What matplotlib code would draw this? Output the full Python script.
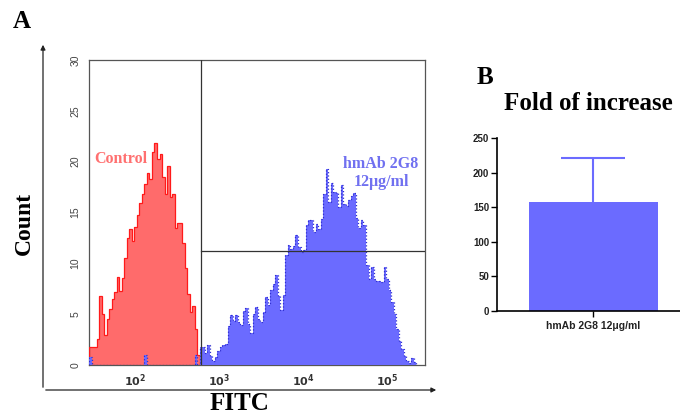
import numpy as np
import matplotlib
matplotlib.use("Agg")
import matplotlib.pyplot as plt
from matplotlib.ticker import NullLocator

# --- histogram data (counts per bin, log10 FITC bins of 0.03 decades) ---
log_start = 1.45
bin_width = 0.03

control_counts = [1.8, 1.8, 1.8, 2.6, 6.8, 5.0, 3.0, 4.5, 5.5, 6.5,
                  7.2, 8.7, 7.3, 8.6, 10.5, 12.5, 13.4, 12.2, 13.6, 14.8,
                  15.9, 16.8, 17.8, 18.9, 18.3, 21.0, 21.8, 20.3, 20.8, 18.5,
                  16.8, 19.6, 16.5, 16.8, 13.5, 14.0, 14.0, 12.0, 9.5, 7.0,
                  5.2, 5.8, 3.5, 1.0]

hmab_counts = [0.8, 0, 0, 0, 0, 0, 0, 0, 0, 0,
               0, 0, 0, 0, 0, 0, 0, 0, 0, 0,
               0, 0, 1.0, 0, 0, 0, 0, 0, 0, 0,
               0, 0, 0, 0, 0, 0, 0, 0, 0, 0,
               0, 0, 1.0, 0,
               1.8, 1.8, 1.2, 2.0, 0.9, 0.4, 0.8, 1.4, 1.8, 2.0,
               2.1, 3.8, 4.9, 4.3, 4.9, 4.2, 3.9, 5.3, 5.6, 4.0,
               3.1, 5.0, 5.7, 4.5, 4.2, 5.2, 6.7, 5.9, 7.4, 8.0,
               8.9, 6.8, 5.4, 6.9, 10.8, 11.8, 11.4, 11.7, 12.8, 11.6,
               11.1, 11.3, 13.8, 14.3, 14.3, 13.1, 13.9, 13.4, 14.4, 16.8,
               19.3, 16.0, 17.9, 17.0, 16.9, 15.5, 17.7, 15.8, 15.6, 16.2,
               16.6, 16.9, 14.5, 13.5, 14.3, 13.8, 9.8, 8.5, 9.6, 8.5,
               8.3, 8.3, 8.2, 9.6, 8.5, 7.4, 6.2, 5.0, 3.5, 2.4,
               1.6, 0.9, 0.4, 0.2, 0.7, 0.3]

gate_x = 10 ** 2.79
gate_y = 11.2
x_ticks = [1e2, 1e3, 1e4, 1e5]
x_tick_labels = [r'$\mathbf{10^{2}}$', r'$\mathbf{10^{3}}$',
                 r'$\mathbf{10^{4}}$', r'$\mathbf{10^{5}}$']
y_ticks = [0, 5, 10, 15, 20, 25, 30]

# --- bar panel data ---
bar_labels = ['hmAb 2G8 12μg/ml']
fold_mean = [157]
fold_err = [64]
bar_y_ticks = [0, 50, 100, 150, 200, 250]

serif = 'Liberation Serif'
sans = ['Liberation Sans', 'DejaVu Sans']

fig = plt.figure(figsize=(6.8, 4.17), dpi=100)

# ---------------- panel A: flow histogram ----------------
ax = fig.add_axes([0.1309, 0.1247, 0.494, 0.7314])
ctrl_edges = 10 ** (log_start + bin_width * np.arange(len(control_counts) + 1))
hmab_edges = 10 ** (log_start + bin_width * np.arange(len(hmab_counts) + 1))

ax.stairs(control_counts, ctrl_edges, fill=True, color='#ff6b6b', zorder=2)
ax.stairs(control_counts, ctrl_edges, color='#ff1a1a', lw=0.9, zorder=3)
ax.stairs(hmab_counts, hmab_edges, fill=True, color='#6b6bff', zorder=4)
ax.stairs(hmab_counts, hmab_edges, color='#3030d0', lw=0.9, ls=':', zorder=5)

ax.set_xscale('log')
ax.set_xlim(10 ** 1.45, 10 ** 5.452)
ax.set_ylim(0, 30)
ax.axvline(gate_x, color='#333333', lw=0.9, zorder=6)
ax.plot([gate_x, 10 ** 5.452], [gate_y, gate_y], color='#333333', lw=0.9, zorder=6)

ax.set_xticks(x_ticks)
ax.set_xticklabels(x_tick_labels, fontsize=8, color='#333333')
ax.xaxis.set_minor_locator(NullLocator())
ax.set_yticks(y_ticks)
ax.set_yticklabels([str(t) for t in y_ticks], rotation=90, va='center',
                   fontsize=7.5, color='#444444', family=sans)
ax.tick_params(length=0, pad=6)
ax.tick_params(axis='x', pad=5)
for sp in ax.spines.values():
    sp.set_color('#555555')
    sp.set_linewidth(0.9)

ax.text(121 / 680, 1 - 159 / 417, 'Control', transform=fig.transFigure,
        ha='center', va='center', fontsize=11.5, fontweight='bold',
        family=serif, color='#ff7070')
ax.text(381 / 680, 1 - 173 / 417, 'hmAb 2G8\n12μg/ml', transform=fig.transFigure,
        ha='center', va='center', fontsize=11.5, fontweight='bold',
        family=serif, color='#7070f0', linespacing=1.1)

# outer arrows
fig.add_artist(matplotlib.patches.FancyArrowPatch(
    (43 / 680, 1 - 390 / 417), (43 / 680, 1 - 42 / 417), transform=fig.transFigure,
    arrowstyle='-|>', mutation_scale=7, lw=0.9, color='#222222'))
fig.add_artist(matplotlib.patches.FancyArrowPatch(
    (43 / 680, 1 - 390 / 417), (439 / 680, 1 - 390 / 417), transform=fig.transFigure,
    arrowstyle='-|>', mutation_scale=7, lw=0.9, color='#222222'))

fig.text(22 / 680, 1 - 22 / 417, 'A', ha='center', va='center', fontsize=18,
         fontweight='bold', family=serif)
fig.text(24 / 680, 1 - 223 / 417, 'Count', ha='center', va='center', rotation=90,
         fontsize=17, fontweight='bold', family=serif)
fig.text(239 / 680, 1 - 404 / 417, 'FITC', ha='center', va='center',
         fontsize=18, fontweight='bold', family=serif)

# ---------------- panel B: fold of increase ----------------
bx = fig.add_axes([497 / 680, 1 - 311 / 417, 203 / 680, 173 / 417])
xpos = np.arange(len(fold_mean))
bx.bar(xpos, fold_mean, width=0.8, color='#6b6bff', zorder=2)
_, caps, _ = bx.errorbar(xpos, fold_mean, yerr=[[0] * len(fold_err), fold_err],
                         fmt='none', ecolor='#6b6bff', elinewidth=1.5, capsize=23,
                         capthick=1.5, zorder=1)
# only the upper cap is wanted
for cap in caps:
    if np.allclose(cap.get_ydata(), fold_mean):
        cap.set_visible(False)
bx.set_xlim(-0.598, 0.661)
bx.set_ylim(0, 250)
bx.set_yticks(bar_y_ticks)
bx.set_yticklabels([str(t) for t in bar_y_ticks], fontsize=7,
                   fontweight='bold', family=sans, color='#222222')
bx.set_xticks(xpos)
bx.set_xticklabels(bar_labels, fontsize=7.5, fontweight='bold', family=sans,
                   color='#222222')
bx.tick_params(length=4, width=1, pad=1.5)
bx.tick_params(axis='x', pad=3)
bx.spines['top'].set_visible(False)
bx.spines['right'].set_visible(False)
bx.spines['left'].set_linewidth(1.2)
bx.spines['bottom'].set_linewidth(1.2)

fig.text(485 / 680, 1 - 78 / 417, 'B', ha='center', va='center', fontsize=18,
         fontweight='bold', family=serif)
fig.text(588 / 680, 1 - 104 / 417, 'Fold of increase', ha='center', va='center',
         fontsize=18, fontweight='bold', family=serif)

fig.savefig('out.png', dpi=100)
